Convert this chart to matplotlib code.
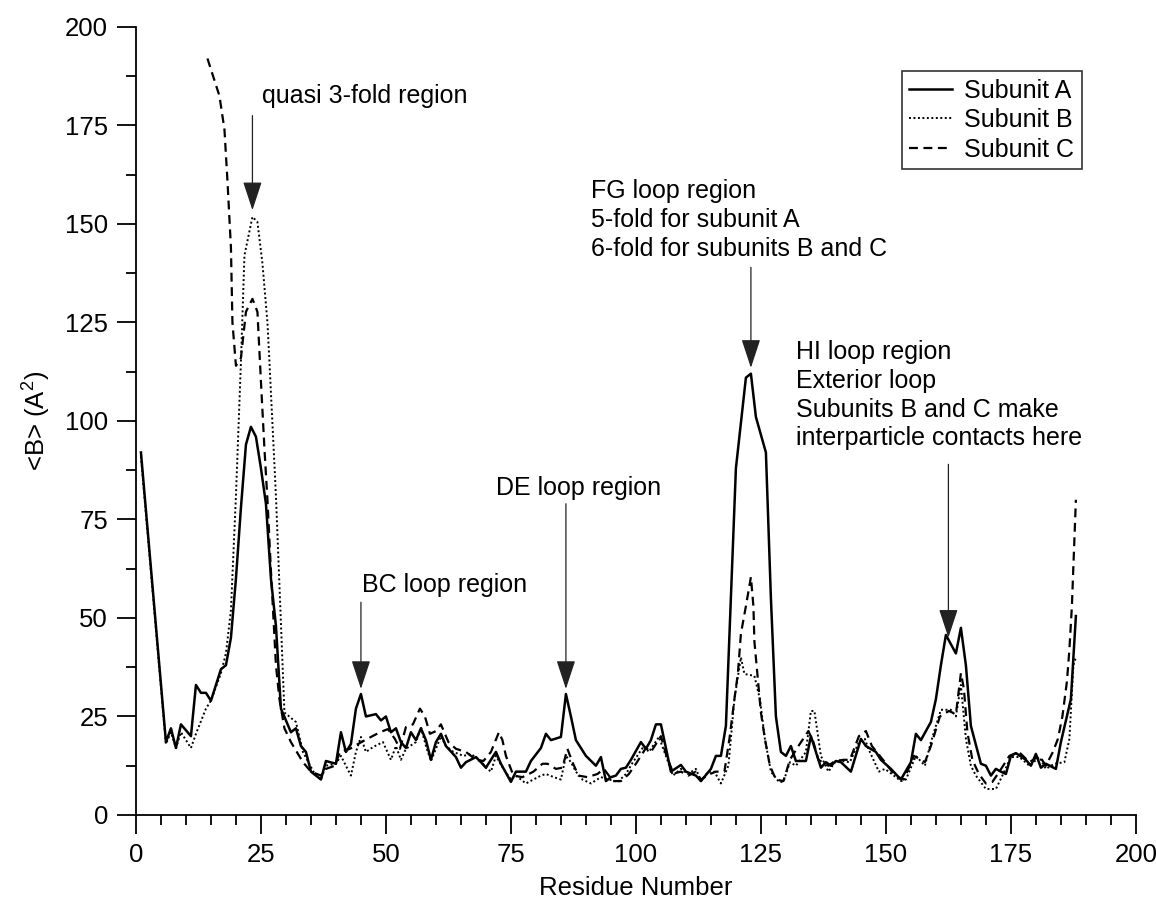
import matplotlib
matplotlib.use("Agg")
import matplotlib.pyplot as plt
from matplotlib.ticker import MultipleLocator

plt.rcParams["font.family"] = ["Liberation Sans", "DejaVu Sans"]
plt.rcParams["mathtext.fontset"] = "custom"
plt.rcParams["mathtext.rm"] = "Liberation Sans"

# per-residue mean B factors
A_RES = [1, 6, 7, 8, 9, 11, 12, 13, 14, 15, 17, 18, 19, 20, 21, 22, 23, 24, 25, 26, 27, 28, 29, 31, 32, 33,
         34, 35, 37, 38, 40, 41, 42, 43, 44, 45, 46, 48, 49, 50, 51, 52, 53, 54, 55, 56, 57, 58, 59, 60, 61,
         62, 64, 65, 66, 68, 69, 70, 72, 73, 75, 76, 78, 79, 81, 82, 83, 85, 86, 87, 88, 90, 92, 93, 94, 95,
         96, 97, 98, 99, 101, 102, 103, 104, 105, 106, 107, 109, 110, 112, 113, 115, 116, 117, 118, 119, 120,
         122, 123, 124, 126, 127, 128, 129, 130, 131, 132, 134, 135, 137, 138, 139, 140, 141, 143, 145, 146,
         148, 149, 151, 153, 155, 156, 157, 159, 160, 161, 162, 164, 165, 166, 167, 169, 170, 171, 172, 173,
         174, 175, 176, 178, 179, 180, 181, 182, 184, 185, 187, 188]
A_B = [92, 18.5, 22, 17, 23, 20, 33, 31, 31, 29, 37, 38, 45, 60, 78, 94, 98.5, 96, 88, 79, 60, 48, 27, 21, 22,
       17.5, 16, 11, 9, 13.7, 13, 21, 16, 18, 27, 30.7, 25, 25.6, 24, 25, 21, 22, 18.5, 17, 21, 19, 22, 19,
       14, 18.5, 20.6, 17.5, 14.7, 12, 13.4, 14.7, 13.4, 12, 16, 13, 8.4, 11, 11, 13.7, 17, 20.6, 19, 19.8,
       30.7, 25, 19, 15, 12.5, 14.7, 8.6, 9.6, 10, 11.7, 12, 14, 18.5, 16.8, 19, 23, 23, 17, 11, 12.7, 11,
       10, 8.6, 11.7, 15, 15, 22.6, 55, 88, 111, 112, 101, 92, 55, 25, 16, 15, 17.5, 13.7, 13.7, 20, 12, 13.4,
       12.5, 13.7, 13.4, 11, 19.3, 17.5, 16, 14, 11.7, 9, 13.4, 20.6, 19, 23.6, 29.4, 38, 45.7, 41, 47.5, 38,
       22.6, 13, 12.5, 10, 11.7, 11, 10.4, 15, 15.7, 14, 12.5, 15.5, 12, 13, 11.7, 18.5, 29.4, 50.5]

B_RES = [1, 6, 7, 8, 9, 11, 12, 14, 15, 17, 18, 19, 20, 21, 21.7, 23.3, 24.3, 25.3, 26.3, 26.7, 28, 29, 29.7,
         32, 33.4, 35.5, 37, 38, 40, 41, 43, 44, 45, 46, 47.5, 49.4, 51, 52, 53, 54, 56, 57, 58, 59, 60, 61,
         62, 63.5, 65.5, 67, 69, 70, 71, 72, 73.5, 75, 76, 78, 79.5, 81, 82, 83.6, 85, 86, 87, 88, 89.3, 91,
         93, 94.6, 96.4, 98, 99.4, 101.6, 102.6, 104.6, 106, 107.4, 109, 110.4, 112, 113, 114.5, 115.7, 117,
         118.5, 119.7, 121, 121.7, 123.7, 124.8, 125.8, 127, 128.6, 129.5, 130.8, 132, 134, 135, 135.7, 137,
         138.5, 139.8, 141, 142.8, 144.6, 145.8, 146.5, 148.6, 149.8, 151.6, 153, 154, 156, 157.8, 159, 160.6,
         161, 163, 164, 165, 166, 167, 168, 170, 172, 173.3, 175, 176.7, 178.7, 180.7, 182, 183.7, 185.7,
         186.7, 187.5, 188]
B_B = [91, 18, 21, 17, 21, 17, 20.6, 27, 29, 36, 41, 52, 81, 115, 142, 151.8, 150.5, 140, 125, 115, 81, 49, 26,
       23.6, 16, 11, 9, 12.5, 13, 15, 10, 16, 19.8, 16, 17.3, 18.5, 14, 17.5, 14, 16.8, 18.5, 22.3, 17.5, 13.7,
       16.8, 20, 17.5, 16, 15, 15.5, 13.7, 12, 11, 15, 11.7, 9, 10, 8, 9, 10, 10.4, 9.6, 9, 15, 13.4, 11, 9, 8,
       9.6, 9, 8.4, 10.4, 13.4, 17.5, 16, 19.8, 15, 10, 11.7, 10.4, 11.7, 8.6, 11, 11, 8, 12.5, 29.4, 40, 35.8,
       35.3, 29.4, 19.3, 11, 8.4, 8.4, 13.4, 12.5, 16, 26.4, 26.4, 15, 11, 13.4, 13.7, 13.4, 18.5, 19.3, 16.8,
       11, 11.7, 10, 8.6, 9, 15, 12.5, 18.5, 25, 26.7, 26.7, 25, 33, 19.3, 12.5, 10, 6.6, 6.6, 10, 14.7, 14.7,
       12.5, 14.7, 11.7, 13, 13.4, 19.3, 38, 40]

C_RES = [14.3, 16.7, 17.7, 18.3, 19, 19.3, 20, 21, 22, 23.3, 24.3, 25, 25.7, 26.3, 27, 28, 28.7, 29.7, 31,
         33.4, 35, 37, 38, 39.8, 40.8, 42.8, 44.4, 45.8, 47, 48.8, 50.4, 51.8, 52.8, 54, 55.4, 56.8, 57.8,
         58.8, 60, 61, 62.5, 64, 66, 68, 69.5, 71, 72.6, 73.3, 74, 75.5, 77.3, 79.5, 81.3, 82.3, 84, 85.3,
         86.3, 87.3, 88.5, 90.3, 92.3, 93.6, 95.4, 97, 98.6, 100, 102, 103, 105, 106, 107.5, 109, 110.5, 112,
         113, 115, 116, 117.7, 118.7, 119.7, 120.4, 121, 122, 123, 123.5, 123.7, 124.5, 125, 125.8, 126.8, 128,
         129.5, 130.8, 132.5, 134.5, 135.5, 136.5, 138.5, 139.8, 141.5, 142.8, 144.6, 146, 147.2, 148.8, 149.8,
         151.8, 153.6, 155.6, 157.8, 159, 160.8, 162.6, 164, 165, 165.6, 166.3, 167.3, 168.6, 170, 171.3, 172.7,
         174.7, 176.6, 178.7, 180.7, 182, 183.4, 184.4, 185.3, 186.2, 186.7, 187.2, 188]
C_B = [192, 182.5, 174, 161, 144, 125, 114, 116, 127.7, 131, 127.7, 110, 93, 80, 62, 38, 29.4, 22, 18.5, 13.4,
       11, 10, 11.7, 12.5, 16, 16.8, 18, 19, 19.8, 21, 21.8, 19.3, 16.8, 22.3, 23, 27, 25, 20.6, 21.3, 23, 18.5,
       16.8, 16, 14, 13.7, 16, 21, 19, 15, 10, 9.6, 11, 13, 13, 11.7, 12, 16.8, 13.4, 10, 9.6, 10.4, 11.7, 8.6,
       8.6, 10.4, 13, 17, 16, 20, 15.5, 10.5, 11, 10, 11, 9, 10.5, 11, 11, 19.3, 29.4, 36, 46, 53, 60.4, 53, 44,
       33, 26, 19.3, 12.5, 9, 8.6, 14, 17.5, 21.3, 18.5, 14, 12.5, 13.7, 14, 14, 20, 21.3, 17.5, 15, 13.4, 10, 9,
       15, 13.4, 17.5, 25, 26.4, 25.6, 36, 32, 21, 14, 10.4, 8, 8.4, 11, 15, 16, 13.4, 15, 12.5, 16, 19.3, 25,
       33.8, 42, 53, 80]

# (text, text x, text top y, arrow x, arrow start y, arrow tip y)
NOTES = [
    ("quasi 3-fold region", 25.3, 185.5, 23.3, 177.5, 153.5),
    ("FG loop region\n5-fold for subunit A\n6-fold for subunits B and C", 91, 161.3, 123, 139, 113.5),
    ("HI loop region\nExterior loop\nSubunits B and C make\ninterparticle contacts here", 132, 120.5, 162.5, 89, 45),
    ("DE loop region", 72, 86, 86, 79, 32),
    ("BC loop region", 45.2, 61.5, 45, 54, 32),
]

fig = plt.figure(figsize=(11.56, 9.11), dpi=100)
ax = fig.add_axes([0.1176, 0.1054, 0.865, 0.865])

ax.plot(A_RES, A_B, color="black", lw=1.8, label="Subunit A")
ax.plot(B_RES, B_B, color="black", lw=1.4, ls=(0, (1, 1.3)), label="Subunit B")
ax.plot(C_RES, C_B, color="black", lw=1.6, ls=(0, (4, 2.5)), label="Subunit C")

for txt, tx, ty, axx, y0, y1 in NOTES:
    ax.text(tx, ty, txt, ha="left", va="top", fontsize=18, linespacing=1.25)
    ax.annotate("", xy=(axx, y1), xytext=(axx, y0),
                arrowprops=dict(arrowstyle="-|>,head_length=1.0,head_width=0.33", color="#222222",
                                lw=0.9, mutation_scale=18, shrinkA=0, shrinkB=0))

ax.set_xlim(0, 200)
ax.set_ylim(0, 200)
ax.xaxis.set_major_locator(MultipleLocator(25))
ax.xaxis.set_minor_locator(MultipleLocator(5))
ax.yaxis.set_major_locator(MultipleLocator(25))
ax.yaxis.set_minor_locator(MultipleLocator(12.5))
ax.tick_params(which="major", length=14, width=1.3, labelsize=18.5, direction="out", pad=6)
ax.tick_params(which="minor", length=7, width=1.3, direction="out")
ax.spines[["top", "right"]].set_visible(False)
ax.spines[["left", "bottom"]].set_linewidth(1.3)
ax.set_xlabel("Residue Number", fontsize=18.5)
ax.set_ylabel("<B> (A$^2$)", fontsize=18.5)
ax.xaxis.set_label_coords(0.5, -0.078)
ax.yaxis.set_label_coords(-0.084, 0.5)

leg = ax.legend(loc="upper right", bbox_to_anchor=(0.946, 0.944), fontsize=18, frameon=True,
                fancybox=False, edgecolor="black", handlelength=1.7, borderpad=0.3,
                labelspacing=0.22, handletextpad=0.5, borderaxespad=0)
leg.get_frame().set_linewidth(1.2)

fig.savefig("out.png", dpi=100)
